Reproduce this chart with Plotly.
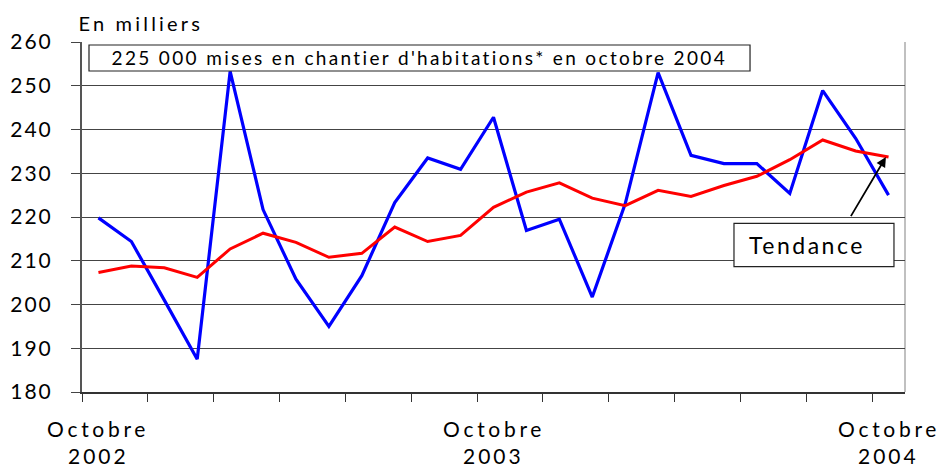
import plotly.graph_objects as go

months = ["oct 2002", "nov 2002", "déc 2002", "jan 2003", "fév 2003", "mar 2003", "avr 2003",
          "mai 2003", "juin 2003", "juil 2003", "août 2003", "sep 2003", "oct 2003",
          "nov 2003", "déc 2003", "jan 2004", "fév 2004", "mar 2004", "avr 2004",
          "mai 2004", "juin 2004", "juil 2004", "août 2004", "sep 2004", "oct 2004"]
mises_en_chantier = [219.8, 214.4, 201.0, 187.5, 253.3, 221.7, 205.8, 195.0, 206.6, 223.3,
                     233.5, 230.9, 242.8, 216.9, 219.5, 201.7, 223.0, 253.0, 234.1, 232.2,
                     232.2, 225.4, 248.9, 238.0, 225.0]
tendance = [207.3, 208.8, 208.4, 206.2, 212.7, 216.3, 214.2, 210.8, 211.7, 217.7,
            214.4, 215.8, 222.2, 225.7, 227.8, 224.3, 222.6, 226.1, 224.7, 227.2,
            229.3, 233.1, 237.6, 235.1, 233.7]
y_ticks = [180, 190, 200, 210, 220, 230, 240, 250, 260]
x_labels = {0: ("Octobre", "2002"), 12: ("Octobre", "2003"), 24: ("Octobre", "2004")}

x = list(range(len(months)))
FONT = "Lato"

fig = go.Figure()
fig.add_trace(go.Scatter(x=x, y=mises_en_chantier, mode="lines",
                         line=dict(color="#0000ff", width=3.2), hoverinfo="skip"))
fig.add_trace(go.Scatter(x=x, y=tendance, mode="lines",
                         line=dict(color="#ff0000", width=3), hoverinfo="skip"))

annotations = []
annotations.append(dict(text="En milliers", xref="paper", yref="paper", x=0.0711, y=1.0551,
                        xanchor="center", yanchor="middle", showarrow=False,
                        font=dict(family=FONT, size=20, color="black")))
annotations.append(dict(text="225 000 mises en chantier d'habitations* en octobre 2004",
                        xref="paper", yref="paper", x=0.4095, y=0.9543,
                        xanchor="center", yanchor="middle", showarrow=False,
                        font=dict(family=FONT, size=19, color="black")))
annotations.append(dict(text="Tendance", xref="paper", yref="paper", x=0.8809, y=0.42,
                        xanchor="center", yanchor="middle", showarrow=False,
                        font=dict(family=FONT, size=23, color="black")))
for xi, (a, b) in x_labels.items():
    annotations.append(dict(text=a, xref="x", yref="paper", x=xi, y=-0.1057,
                            xanchor="center", yanchor="middle", showarrow=False,
                            font=dict(family=FONT, size=21, color="black")))
    annotations.append(dict(text=b, xref="x", yref="paper", x=xi, y=-0.181,
                            xanchor="center", yanchor="middle", showarrow=False,
                            font=dict(family=FONT, size=21, color="black")))
annotations.append(dict(text="", x=23.92, y=233.7, ax=22.83, ay=219.85,
                        xref="x", yref="y", axref="x", ayref="y",
                        showarrow=True, arrowhead=2, arrowsize=1.1, arrowwidth=1.8,
                        arrowcolor="black", standoff=0))

shapes = [
    dict(type="rect", xref="paper", yref="paper", x0=0.0085, x1=0.8117, y0=0.9171, y1=0.9914,
         line=dict(color="#222", width=1.2), fillcolor="white", layer="above"),
    dict(type="rect", xref="paper", yref="paper", x0=0.7922, x1=0.9866, y0=0.358, y1=0.482,
         line=dict(color="#222", width=1.2), fillcolor="white", layer="above"),
    dict(type="line", xref="paper", yref="paper", x0=1, x1=1, y0=0, y1=1,
         line=dict(color="#c0c0c0", width=2), layer="below"),
]

fig.update_layout(
    width=941, height=469,
    margin=dict(l=82, r=36, t=42, b=77),
    paper_bgcolor="white", plot_bgcolor="white",
    showlegend=False,
    annotations=annotations,
    shapes=shapes,
    xaxis=dict(range=[-0.5, len(months) - 0.5], showgrid=False, zeroline=False,
               tickmode="array", tickvals=[-0.5 + 2 * k for k in range(13)],
               ticks="outside", ticklen=8, tickwidth=1, tickcolor="#333",
               showticklabels=False, showline=True, linecolor="#333", linewidth=1.5),
    yaxis=dict(range=[180, 260], tickmode="array", tickvals=y_ticks,
               ticktext=[str(v) for v in y_ticks],
               showgrid=True, gridcolor="#444", gridwidth=1, zeroline=False,
               ticks="outside", ticklen=9, tickwidth=1, tickcolor="#444",
               showline=True, linecolor="#555", linewidth=2,
               ticklabelstandoff=14,
               tickfont=dict(family=FONT, size=21, color="black")),
)

css = """
var st = document.createElement('style');
st.innerHTML = 'html,body{margin:0;padding:0;overflow:hidden;}' +
  '.ytick text{letter-spacing:2px;}' +
  'g.annotation[data-index="0"] text{letter-spacing:3.2px;}' +
  'g.annotation[data-index="1"] text{letter-spacing:2.35px;}' +
  'g.annotation[data-index="2"] text{letter-spacing:2.5px;}' +
  'g.annotation[data-index="3"] text, g.annotation[data-index="5"] text, g.annotation[data-index="7"] text{letter-spacing:3.7px;}' +
  'g.annotation[data-index="4"] text, g.annotation[data-index="6"] text, g.annotation[data-index="8"] text{letter-spacing:3px;}';
document.head.appendChild(st);
"""

fig.write_html("out.html", post_script=css, config={"displayModeBar": False})
